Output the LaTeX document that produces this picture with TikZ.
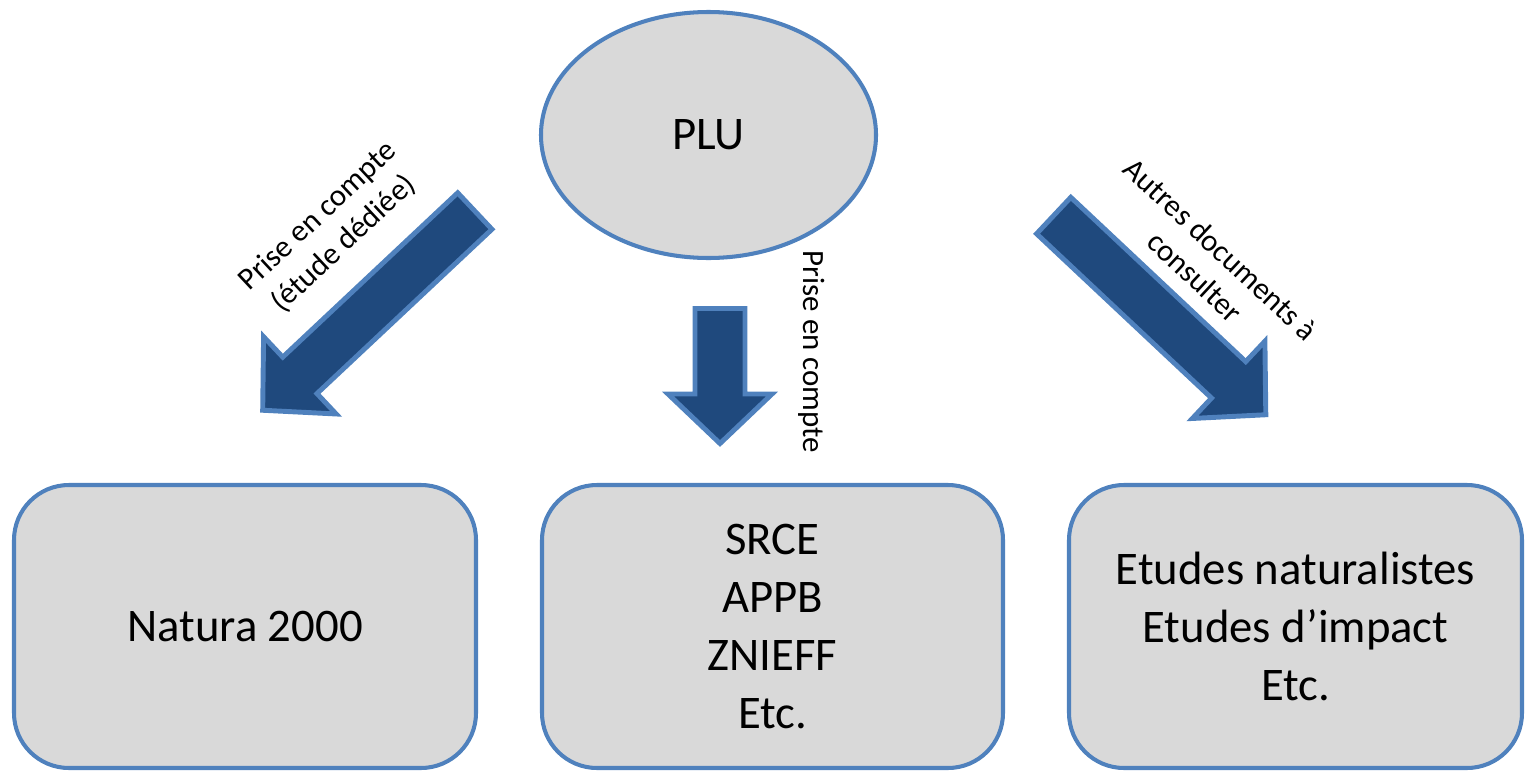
\documentclass[tikz,border=0pt]{standalone}
\usepackage{fontspec}
\setmainfont{Carlito}
\usetikzlibrary{shapes.geometric}
\definecolor{boxfill}{HTML}{D9D9D9}
\definecolor{edgeblue}{HTML}{4F81BD}
\definecolor{arrowblue}{HTML}{1F497D}
\tikzset{
  bigtext/.style={font=\fontsize{26.6}{32.9}\selectfont, align=center, text=black},
  lbltext/.style={font=\fontsize{17.6}{21.5}\selectfont, align=center, text=black, inner sep=0pt},
  docbox/.style={draw=edgeblue, fill=boxfill, line width=2.3pt, rounded corners=1.1cm, rectangle, inner sep=0pt},
  blockarrow/.style={draw=edgeblue, fill=arrowblue, line width=2.8pt, line join=miter},
}
\begin{document}
\begin{tikzpicture}[x=0.02cm, y=-0.02cm]
\useasboundingbox (0,0) rectangle (1526,771);

% central ellipse
\node[ellipse, draw=edgeblue, fill=boxfill, line width=2.3pt, minimum width=335*0.02cm, minimum height=246*0.02cm, inner sep=0pt, bigtext] (plu) at (708.5,135) {PLU};

% boxes
\node[docbox, minimum width=462*0.02cm, minimum height=283*0.02cm, bigtext] (natura) at (245,626.5) {Natura 2000};
\node[docbox, minimum width=461*0.02cm, minimum height=283*0.02cm, bigtext] (srce) at (772.5,626.5) {SRCE\\APPB\\ZNIEFF\\Etc.};
\node[docbox, minimum width=453*0.02cm, minimum height=283*0.02cm, bigtext] (etudes) at (1295.5,626.5) {Etudes naturalistes\\Etudes d’impact\\Etc.};

% left block arrow
\begin{scope}[shift={(477,209)}, rotate=223.2]
  \draw[blockarrow] (3,25) -- (243,25) -- (243,53) -- (294,0) -- (243,-53) -- (243,-25) -- (3,-25) -- cycle;
\end{scope}
% middle block arrow
\begin{scope}[shift={(720,306)}, rotate=-90]
  \draw[blockarrow] (2.5,25) -- (88,25) -- (88,52) -- (137.5,0) -- (88,-52) -- (88,-25) -- (2.5,-25) -- cycle;
\end{scope}
% right block arrow
\begin{scope}[shift={(1051.5,213.5)}, rotate=-43.2]
  \draw[blockarrow] (3,25) -- (243,25) -- (243,53) -- (294,0) -- (243,-53) -- (243,-25) -- (3,-25) -- cycle;
\end{scope}

% arrow labels
\node[lbltext, rotate=43] (lblleft) at (331,230) {Prise en compte\\(étude dédiée)};
\node[lbltext, rotate=-90] (lblmid) at (812,352) {Prise en compte};
\node[lbltext, rotate=-43] (lblright) at (1208,263) {Autres documents à\\consulter};
\end{tikzpicture}
\end{document}
